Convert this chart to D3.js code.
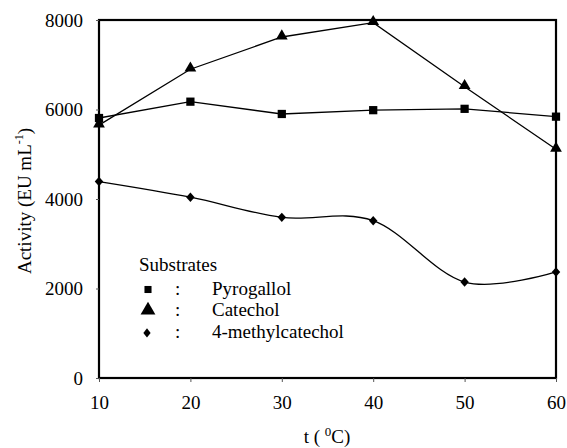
<!DOCTYPE html>
<html>
<head>
<meta charset="utf-8">
<script src="https://cdn.jsdelivr.net/npm/d3@7"></script>
<style>
  html, body { margin: 0; padding: 0; background: #fff; }
</style>
</head>
<body>
<svg id="chart" width="567" height="448"></svg>
<script>
// Temperature (°C)
const temps = [10, 20, 30, 40, 50, 60];
// Enzyme activity (EU mL-1) per substrate
const pyrogallol = [5810, 6175, 5900, 5985, 6015, 5840];
const catechol = [5650, 6900, 7620, 7940, 6510, 5110];
const methylcatechol = [4390, 4040, 3590, 3515, 2145, 2370];

const xTicks = [10, 20, 30, 40, 50, 60];
const yTicks = [0, 2000, 4000, 6000, 8000];

const seriesNames = ["Pyrogallol", "Catechol", "4-methylcatechol"];

const FONT = "'Liberation Serif', 'Times New Roman', Times, serif";

const svg = d3.select("#chart");
const margin = { left: 99, right: 11, top: 20, bottom: 70 };
const W = 567, H = 448;
const x = d3.scaleLinear().domain([10, 60]).range([margin.left, W - margin.right]);
const y = d3.scaleLinear().domain([0, 8000]).range([H - margin.bottom, margin.top]);

// plot frame
svg.append("rect")
  .attr("x", x(10)).attr("y", y(8000))
  .attr("width", x(60) - x(10)).attr("height", y(0) - y(8000))
  .attr("fill", "none").attr("stroke", "#000").attr("stroke-width", 2.2);

// axes
const xAxis = d3.axisBottom(x).tickValues(xTicks).tickSize(4).tickPadding(14).tickFormat(d3.format("d"));
const gx = svg.append("g").attr("transform", `translate(0,${y(0)})`).call(xAxis);
gx.select(".domain").remove();
gx.selectAll(".tick line").attr("stroke", "#555").attr("stroke-width", 1);
gx.selectAll(".tick text").style("font-size", "19px").attr("dy", "0.71em");

const yAxis = d3.axisLeft(y).tickValues(yTicks).tickSize(3).tickPadding(13).tickFormat(d3.format("d"));
const gy = svg.append("g").attr("transform", `translate(${x(10)},0)`).call(yAxis);
gy.select(".domain").remove();
gy.selectAll(".tick line").attr("stroke", "#555").attr("stroke-width", 1);
gy.selectAll(".tick text").style("font-size", "19px");

// axis titles
const xt = svg.append("text")
  .attr("x", 327).attr("y", 443)
  .attr("text-anchor", "middle").style("font-size", "19px");
xt.append("tspan").text("t ( ");
xt.append("tspan").attr("dy", -7).style("font-size", "13px").text("0");
xt.append("tspan").attr("dy", 7).text("C)");

const yt = svg.append("text")
  .attr("transform", "translate(31,201) rotate(-90)")
  .attr("text-anchor", "middle").style("font-size", "19px");
yt.append("tspan").text("Activity (EU mL");
yt.append("tspan").attr("dy", -8).style("font-size", "12px").text("-1");
yt.append("tspan").attr("dy", 8).text(")");

// series lines
const straight = d3.line().x((d, i) => x(temps[i])).y(d => y(d));
const smooth = d3.line().x((d, i) => x(temps[i])).y(d => y(d)).curve(d3.curveCatmullRom.alpha(0));

const plot = svg.append("g");
plot.append("path").datum(pyrogallol).attr("d", straight)
  .attr("fill", "none").attr("stroke", "#000").attr("stroke-width", 1.3);
plot.append("path").datum(catechol).attr("d", straight)
  .attr("fill", "none").attr("stroke", "#000").attr("stroke-width", 1.3);
plot.append("path").datum(methylcatechol).attr("d", smooth)
  .attr("fill", "none").attr("stroke", "#000").attr("stroke-width", 1.3);

// markers
const sq = d3.symbol().type(d3.symbolSquare).size(68);
const tri = d3.symbol().type(d3.symbolTriangle).size(60);
const dia = d3.symbol().type(d3.symbolDiamond).size(40);

plot.selectAll(".m-pyro").data(pyrogallol).join("path")
  .attr("d", sq).attr("fill", "#000")
  .attr("transform", (d, i) => `translate(${x(temps[i])},${y(d)})`);
plot.selectAll(".m-cat").data(catechol).join("path")
  .attr("d", tri).attr("fill", "#000")
  .attr("transform", (d, i) => `translate(${x(temps[i])},${y(d) - 1})`);
plot.selectAll(".m-meth").data(methylcatechol).join("path")
  .attr("d", dia).attr("fill", "#000")
  .attr("transform", (d, i) => `translate(${x(temps[i])},${y(d)}) scale(1.25,0.8)`);

// legend
const lg = svg.append("g");
lg.append("text").attr("x", 139).attr("y", 271).style("font-size", "19px").text("Substrates");
const legendSyms = [
  d3.symbol().type(d3.symbolSquare).size(50),
  d3.symbol().type(d3.symbolTriangle).size(95),
  d3.symbol().type(d3.symbolDiamond).size(42)
];
seriesNames.forEach((name, i) => {
  const cy = 289.5 + i * 21.7;
  lg.append("path").attr("d", legendSyms[i]()).attr("fill", "#000")
    .attr("transform", i === 2 ? `translate(147,${cy}) scale(1.05,0.78)` : `translate(148,${cy - (i === 1 ? 1 : 0)})`);
  lg.append("text").attr("x", 175).attr("y", cy + 5).style("font-size", "19px").text(":");
  lg.append("text").attr("x", 212).attr("y", cy + 5).style("font-size", "19px").text(name);
});

// serif face for every label
svg.selectAll("text").attr("font-family", null).style("font-family", FONT).style("fill", "#000");
svg.selectAll("g").attr("font-family", null);
</script>
</body>
</html>
